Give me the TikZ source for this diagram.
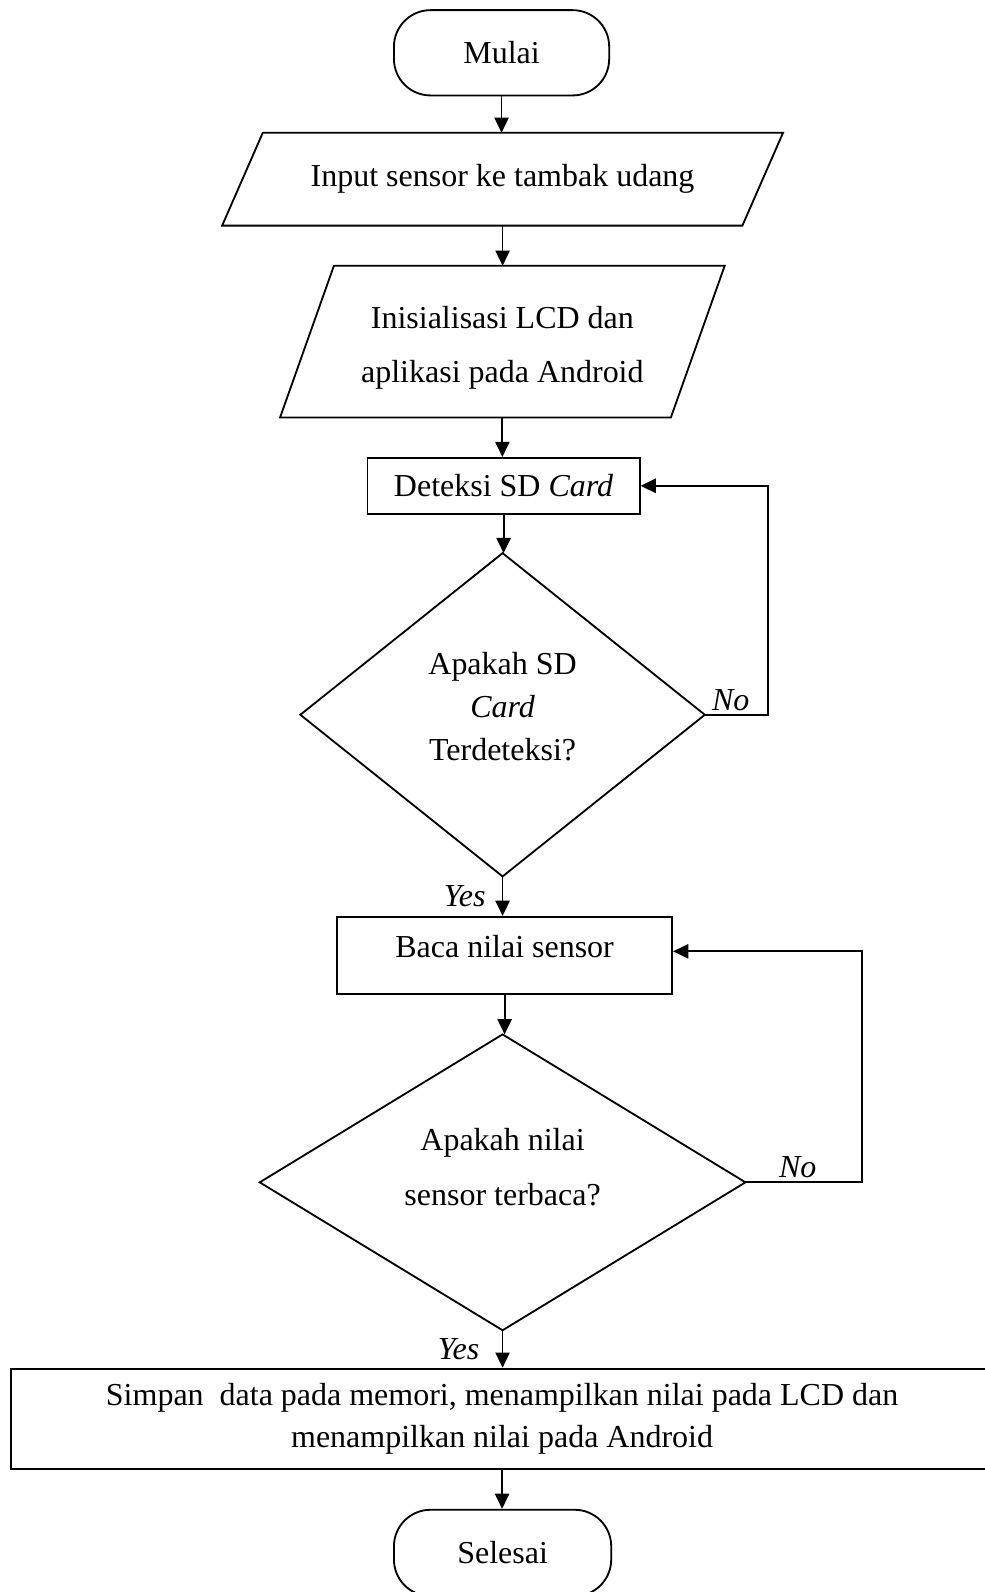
\documentclass[tikz,border=0pt]{standalone}
\usepackage{fontspec}
\setmainfont{Liberation Serif}
\usetikzlibrary{arrows.meta}
\begin{document}
\begin{tikzpicture}[x=1pt,y=-1pt,
  every node/.style={font=\fontsize{31.5}{38}\selectfont, inner sep=0pt},
  line/.style={line width=1.8pt},
  term/.style={draw, line width=1.8pt, rounded corners=36pt},
  proc/.style={draw, line width=1.8pt},
  arr/.style={line width=1.8pt, -{Triangle[length=15pt,width=14pt]}},
  lab/.style={font=\fontsize{31.5}{38}\selectfont\itshape}
]
\useasboundingbox (0,0) rectangle (970,1568);
\clip (0,0) rectangle (970,1568);

\node[term, minimum width=212, minimum height=84] (mulai) at (494,52) {Mulai};

\node[minimum width=512, minimum height=91] (in1) at (495,176.5) {Input sensor ke tambak udang};
\draw[line] ([xshift=20pt]in1.north west) -- ([xshift=20pt]in1.north east)
  -- ([xshift=-20pt]in1.south east) -- ([xshift=-20pt]in1.south west) -- cycle;

\node[minimum width=384.5, minimum height=149,
  label={[align=center, yshift=-6pt, font=\fontsize{31.5}{54}\selectfont]center:Inisialisasi LCD dan\\aplikasi pada Android}]
  (in2) at (494.8,336.5) {};
\draw[line] ([xshift=26.5pt]in2.north west) -- ([xshift=26.5pt]in2.north east)
  -- ([xshift=-26.5pt]in2.south east) -- ([xshift=-26.5pt]in2.south west) -- cycle;

\node[proc, minimum width=268, minimum height=55] (det) at (496,478.5) {Deteksi SD \textit{Card}};

\node[minimum width=398, minimum height=318,
  label={[align=center, yshift=8pt, font=\fontsize{31.5}{42}\selectfont]center:Apakah SD\\\textit{Card}\\Terdeteksi?}]
  (q1) at (495,704) {};
\draw[line] (q1.north) -- (q1.east) -- (q1.south) -- (q1.west) -- cycle;

\node[proc, minimum width=330, minimum height=76,
  label={[yshift=9pt]center:Baca nilai sensor}] (baca) at (497,941) {};

\node[minimum width=478, minimum height=291,
  label={[align=center, yshift=15pt, font=\fontsize{31.5}{54}\selectfont]center:Apakah nilai\\sensor terbaca?}]
  (q2) at (495,1164.5) {};
\draw[line] (q2.north) -- (q2.east) -- (q2.south) -- (q2.west) -- cycle;

\node[proc, minimum width=967, minimum height=99, align=center,
  font=\fontsize{31.5}{41}\selectfont] (simpan) at (494.5,1397.5)
  {Simpan\ \ data pada memori, menampilkan nilai pada LCD dan\\menampilkan nilai pada Android};

\node[term, minimum width=214, minimum height=85] (selesai) at (495,1529.5) {Selesai};

\draw[arr] (mulai.south) -- (mulai.south |- in1.north);
\draw[arr] (in1.south) -- (in1.south |- in2.north);
\draw[arr] (in2.south) -- (in2.south |- det.north);
\draw[arr] (det.south) -- (det.south |- q1.north);
\draw[arr] (q1.south) -- (q1.south |- baca.north) node[lab, midway, left=16pt] {Yes};
\draw[arr] (q1.east) -- ++(62,0) |- (det.east);
\node[lab, anchor=base west] (no1) at ([xshift=7pt,yshift=4pt]q1.east) {No};
\draw[arr] (baca.south) -- (baca.south |- q2.north);
\draw[arr] (q2.east) -- ++(115,0) |- ([yshift=4pt]baca.east);
\node[lab, anchor=base west] (no2) at ([xshift=33pt,yshift=5pt]q2.east) {No};
\draw[arr] (q2.south) -- (q2.south |- simpan.north) node[lab, midway, left=22pt] {Yes};
\draw[arr] (simpan.south) -- (simpan.south |- selesai.north);
\end{tikzpicture}
\end{document}
